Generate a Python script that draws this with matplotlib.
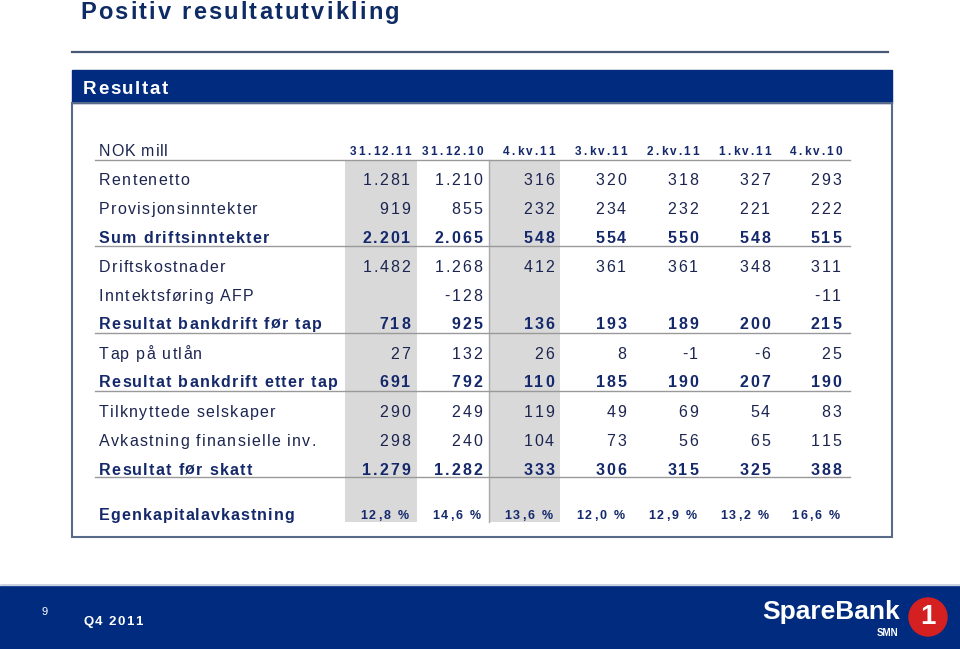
import matplotlib.pyplot as plt
from matplotlib.patches import Rectangle, Circle
from matplotlib.font_manager import FontProperties, findfont, get_font

# --- data ---
columns = ['31.12.11', '31.12.10', '4.kv.11', '3.kv.11', '2.kv.11', '1.kv.11', '4.kv.10']
row_labels = ['Rentenetto', 'Provisjonsinntekter', 'Sum driftsinntekter', 'Driftskostnader',
              'Inntektsføring AFP', 'Resultat bankdrift før tap', 'Tap på utlån',
              'Resultat bankdrift etter tap', 'Tilknyttede selskaper',
              'Avkastning finansielle inv.', 'Resultat før skatt']
bold_rows = [False, False, True, False, False, True, False, True, False, False, True]

rentenetto = [1281, 1210, 316, 320, 318, 327, 293]
provisjon = [919, 855, 232, 234, 232, 221, 222]
sum_drift = [2201, 2065, 548, 554, 550, 548, 515]
driftskost = [1482, 1268, 412, 361, 361, 348, 311]
afp = [None, -128, None, None, None, None, -11]
res_for_tap = [718, 925, 136, 193, 189, 200, 215]
tap = [27, 132, 26, 8, -1, -6, 25]
res_etter_tap = [691, 792, 110, 185, 190, 207, 190]
tilknyttede = [290, 249, 119, 49, 69, 54, 83]
avkastning = [298, 240, 104, 73, 56, 65, 115]
res_for_skatt = [1279, 1282, 333, 306, 315, 325, 388]
egenkapital = [12.8, 14.6, 13.6, 12.0, 12.9, 13.2, 16.6]

rows = [rentenetto, provisjon, sum_drift, driftskost, afp, res_for_tap, tap,
        res_etter_tap, tilknyttede, avkastning, res_for_skatt]

NAVY = '#002B7F'
TEXT = '#1c2550'
BOLD = '#14286b'
GREY = '#d9d9d9'
RULE = '#999999'
FAMILY = 'Liberation Sans'
DPI = 100


def fmt(v):
    if v is None:
        return ''
    return f'{v:,}'.replace(',', '.')


def spaced(ax, x, y, s, size, bold=False, color=TEXT, track=1.0, ha='left'):
    # slides use letter-spaced text, so place the characters one by one,
    # on a common baseline (y is the middle of the capitals)
    if not s:
        return
    weight = 'bold' if bold else 'normal'
    font = get_font(findfont(FontProperties(family=FAMILY, weight=weight)))
    font.set_size(size, DPI)
    adv = [font.load_char(ord(c)).linearHoriAdvance / 65536 for c in s]
    total = sum(adv) + track * (len(s) - 1)
    base = y + 0.716 * size * DPI / 72 / 2
    pos = x - total if ha == 'right' else x
    for c, a in zip(s, adv):
        ax.text(pos, base, c, fontsize=size, fontweight=weight,
                color=color, ha='left', va='baseline', family=FAMILY)
        pos += a + track


plt.rcParams['font.family'] = [FAMILY, 'DejaVu Sans']

fig = plt.figure(figsize=(9.6, 6.49), dpi=DPI)
ax = fig.add_axes([0, 0, 1, 1])
ax.set_xlim(0, 960)
ax.set_ylim(649, 0)
ax.axis('off')

# title and top rule
spaced(ax, 80, 11, 'Positiv resultatutvikling', 17, bold=True, color='#0f2b64', track=2.2)
ax.plot([72, 888], [52, 52], color='#4a5878', lw=1.6)

# header bar and box
ax.add_patch(Rectangle((72, 70), 820, 33, color=NAVY))
spaced(ax, 83, 87, 'Resultat', 13.5, bold=True, color='white', track=1.6)
ax.add_patch(Rectangle((72, 103), 820, 434, fill=False, ec='#5a6b8a', lw=1.5))

col_right = [410, 482, 554, 626, 698, 770, 841]
row_y = [179, 208, 237, 266, 295, 323, 353, 381, 411, 440, 469]
pct_y = 514

# shaded columns
ax.add_patch(Rectangle((345, 160), 72, 362, color=GREY, lw=0))
ax.add_patch(Rectangle((489, 160), 71, 362, color=GREY, lw=0))
ax.plot([489, 489], [160, 522], color='#aaaaaa', lw=1)

# header row
spaced(ax, 99, 150, 'NOK mill', 11.5, track=0.8)
for x, c in zip(col_right, columns):
    spaced(ax, x + 1, 151, c, 8.5, bold=True, color=BOLD, track=2.2, ha='right')

# rules
for y in [160, 246, 333, 391, 477]:
    ax.plot([95, 850], [y, y], color=RULE, lw=1)

# body rows
for y, label, bold, vals in zip(row_y, row_labels, bold_rows, rows):
    col = BOLD if bold else TEXT
    spaced(ax, 99, y, label, 11.5, bold=bold, color=col, track=1.3)
    for x, v in zip(col_right, vals):
        spaced(ax, x, y, fmt(v), 11.5, bold=bold, color=col, track=1.9, ha='right')

spaced(ax, 99, pct_y, 'Egenkapitalavkastning', 11.5, bold=True, color=BOLD, track=1.1)
for x, v in zip(col_right, egenkapital):
    spaced(ax, x - 1, pct_y + 1, f'{v:.1f} %'.replace('.', ','), 9, bold=True,
           color=BOLD, track=2.0, ha='right')

# footer
ax.add_patch(Rectangle((0, 585), 960, 64, color=NAVY))
ax.plot([0, 960], [584.5, 584.5], color='#c8d0e0', lw=1)
ax.text(42, 612, '9', fontsize=8, color='white', va='center')
spaced(ax, 83, 620, 'Q4 2011', 9.5, bold=True, color='white', track=1.5)
ax.text(762, 612, 'SpareBank', fontsize=19, fontweight='bold', color='white', va='center')
ax.text(898, 633, 'SMN', fontsize=7, fontweight='bold', color='white', va='center', ha='right')
ax.add_patch(Circle((928, 617), 19, color='#d42020'))
ax.text(928, 617, '1', fontsize=20, fontweight='bold', color='white', va='center', ha='center')

fig.savefig('out.png', dpi=DPI)
